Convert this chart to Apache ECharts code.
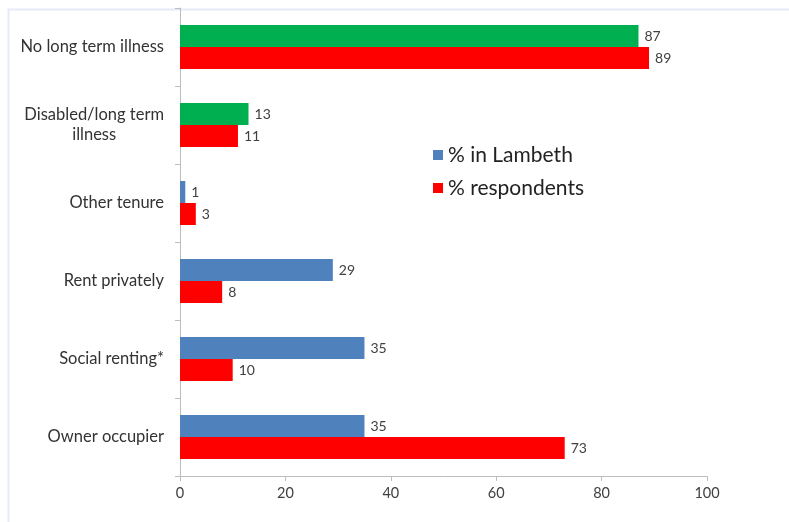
<!DOCTYPE html>
<html>
<head>
<meta charset="utf-8">
<script src="https://cdn.jsdelivr.net/npm/echarts@6/dist/echarts.min.js"></script>
<style>
html,body{margin:0;padding:0;background:#fff;}
#chart{width:789px;height:522px;}
</style>
</head>
<body>
<div id="chart"></div>
<script>
const categories = ['Owner occupier', 'Social renting*', 'Rent privately', 'Other tenure', 'Disabled/long term\nillness', 'No long term illness'];
const lambeth = [35, 35, 29, 1, 13, 87];
const respondents = [73, 10, 8, 3, 11, 89];
const lambethColors = ['#4f81bd', '#4f81bd', '#4f81bd', '#4f81bd', '#00b050', '#00b050'];
const xTicks = { min: 0, max: 100, interval: 20 };
const seriesNames = ['% in Lambeth', '% respondents'];

const FONT = 'Lato';
const chart = echarts.init(document.getElementById('chart'), null, { renderer: 'canvas' });
chart.setOption({
  animation: false,
  backgroundColor: '#ffffff',
  textStyle: { fontFamily: FONT },
  graphic: [{
    type: 'rect', left: 6, top: 7, z: -1,
    shape: { width: 820, height: 560 },
    style: { fill: 'none', stroke: '#e6eaf7', lineWidth: 2 }
  }],
  grid: { left: 180, right: 82, top: 8, bottom: 46, containLabel: false },
  legend: {
    left: 428, top: 139, orient: 'vertical',
    itemWidth: 10, itemHeight: 10, itemGap: 11,
    icon: 'rect',
    textStyle: { fontFamily: FONT, fontSize: 21, lineHeight: 22, color: '#222' },
    data: [
      { name: seriesNames[0], itemStyle: { color: '#4f81bd' } },
      { name: seriesNames[1], itemStyle: { color: '#ff0000' } }
    ]
  },
  xAxis: {
    type: 'value', min: xTicks.min, max: xTicks.max, interval: xTicks.interval,
    axisLine: { show: true, lineStyle: { color: '#bdbdbd' } },
    axisTick: { show: true, length: 5, lineStyle: { color: '#bdbdbd' } },
    axisLabel: { color: '#404040', fontSize: 14.5, margin: 10, fontFamily: FONT },
    splitLine: { show: false }
  },
  yAxis: {
    type: 'category', data: categories,
    axisLine: { show: true, lineStyle: { color: '#bdbdbd' } },
    axisTick: { show: true, length: 5, lineStyle: { color: '#bdbdbd' } },
    axisLabel: {
      color: '#333', fontSize: 16.5, margin: 16, fontFamily: FONT,
      formatter: function (v) {
        return v.split('\n').map(function (s) { return '{c|' + s + '}'; }).join('\n');
      },
      rich: { c: { align: 'center', fontSize: 16.5, color: '#333', fontFamily: FONT, lineHeight: 20 } }
    }
  },
  series: [
    {
      name: seriesNames[0], type: 'bar', barWidth: 22, barGap: '0%',
      data: lambeth.map(function (v, i) { return { value: v, itemStyle: { color: lambethColors[i] } }; }),
      itemStyle: { color: '#4f81bd' },
      label: { show: true, position: 'right', distance: 6, color: '#404040', fontSize: 14, fontFamily: FONT }
    },
    {
      name: seriesNames[1], type: 'bar', barWidth: 22, barGap: '0%',
      data: respondents,
      itemStyle: { color: '#ff0000' },
      label: { show: true, position: 'right', distance: 6, color: '#404040', fontSize: 14, fontFamily: FONT }
    }
  ]
});
</script>
</body>
</html>
